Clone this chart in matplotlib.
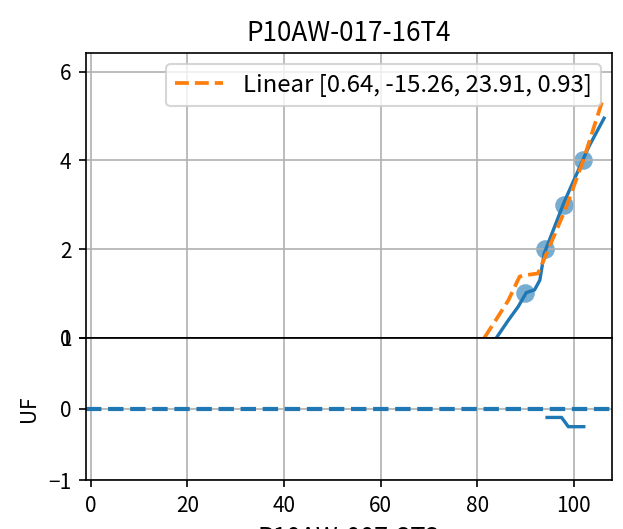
import matplotlib
matplotlib.use('Agg')
import matplotlib.pyplot as plt

plt.rcParams['font.family'] = ['Noto Sans CJK SC', 'DejaVu Sans']

## Data
title = "P10AW-017-16T4"
xlabel = "P10AW-007-3T3"
fit_label = "Linear [0.64, -15.26, 23.91, 0.93]"

curve_x = [84.0, 86.5, 88.5, 90.2, 91.9, 93.0, 93.9, 98.0, 103.1, 106.3]
curve_y = [0.0, 0.40, 0.70, 1.02, 1.08, 1.30, 1.90, 3.05, 4.30, 4.95]

fit_x = [81.5, 84.0, 86.5, 88.8, 90.5, 92.6, 94.7, 98.3, 102.0, 106.0]
fit_y = [0.0, 0.42, 0.85, 1.38, 1.42, 1.45, 1.98, 2.90, 4.00, 5.36]

pts_x = [90, 94, 98, 102]
pts_y = [1, 2, 3, 4]

resid_x = [94.5, 97.5, 98.9, 102.1]
resid_y = [-0.12, -0.12, -0.25, -0.25]


def make_plot():
    """ Two stacked panels sharing x: curve + fit on top, UF residual below. """
    fig = plt.figure(figsize=(623 / 150, 529 / 150), dpi=150)
    gs = fig.add_gridspec(2, 1, height_ratios=[2, 1], hspace=0)
    ax1 = fig.add_subplot(gs[0])
    ax2 = fig.add_subplot(gs[1], sharex=ax1)
    fig.subplots_adjust(left=0.138, right=0.982, top=0.899, bottom=0.0926)

    ## Top panel
    ax1.plot(curve_x, curve_y, color='C0', lw=1.6)
    ax1.plot(fit_x, fit_y, color='C1', ls='--', lw=1.8, label=fit_label)
    ax1.scatter(pts_x, pts_y, color='C0', alpha=0.6, s=80, lw=0)
    ax1.set_ylim(0, 6.41)
    ax1.set_yticks([0, 2, 4, 6])
    ax1.grid(True)
    ax1.tick_params(labelbottom=False)
    ax1.legend(loc='upper right', fontsize=11.5, borderaxespad=0.45)
    ax1.set_title(title, fontsize=12.5)

    ## Bottom panel
    ax2.axhline(0, color='C0', ls='--', lw=2)
    ax2.plot(resid_x, resid_y, color='C0', lw=1.6)
    ax2.set_ylim(-1, 1)
    ax2.set_yticks([-1, 0, 1])
    ax2.set_xlim(-1.0, 107.9)
    ax2.grid(True)
    ax2.set_ylabel("UF")
    ax2.set_xlabel(xlabel, fontsize=12)

    fig.savefig('out.png', dpi=150)


if __name__ == '__main__':
    make_plot()
